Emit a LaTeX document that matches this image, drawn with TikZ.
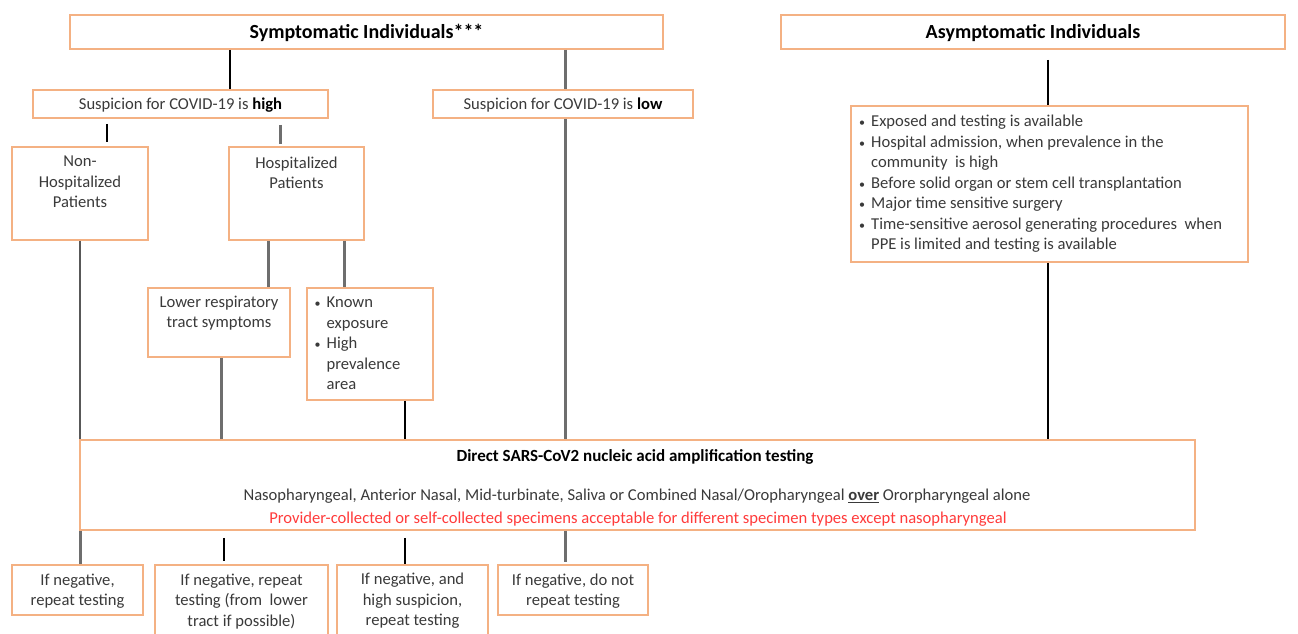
\documentclass[tikz,border=0pt]{standalone}
\usepackage{fontspec}
\setmainfont{Carlito}
\definecolor{boxor}{HTML}{F4B183}
\definecolor{lgray}{HTML}{6E6E6E}
\definecolor{txtc}{HTML}{3A3A3A}
\definecolor{redt}{HTML}{FF3B3B}
\tikzset{
  box/.style={draw=boxor, line width=1.5pt, inner sep=0pt, fill=white},
  txt/.style={text=txtc, font=\fontsize{16.6}{20.5}\selectfont, align=center, inner sep=0pt},
  ttl/.style={text=black, font=\fontsize{20}{24}\selectfont\bfseries, inner sep=0pt},
  gline/.style={draw=lgray, line width=3pt},
  bline/.style={draw=black, line width=1.6pt},
}
\newcommand{\bul}{{\fontsize{12}{12}\selectfont\textbullet}}
\begin{document}
\begin{tikzpicture}[x=1pt,y=-1pt]
\useasboundingbox (0,0) rectangle (1298,633);
\clip (0,0) rectangle (1298,633);
\fill[white] (0,0) rectangle (1298,633);
% boxes
\node[box, minimum width=593, minimum height=34] (sym) at (366.5,32) {};
\node[box, minimum width=504, minimum height=34] (asy) at (1033,32) {};
\node[box, minimum width=295, minimum height=28] (hi) at (180.5,104) {};
\node[box, minimum width=260, minimum height=28] (lo) at (563,104) {};
\node[box, minimum width=136, minimum height=93] (nh) at (80,193.5) {};
\node[box, minimum width=135, minimum height=93] (hp) at (296.5,193.5) {};
\node[box, minimum width=142, minimum height=69] (lr) at (219,322.5) {};
\node[box, minimum width=126, minimum height=112] (ke) at (370,344) {};
\node[box, minimum width=397, minimum height=156] (lst) at (1049.5,184) {};
\node[box, minimum width=1115, minimum height=90] (big) at (637.5,485) {};
\node[box, minimum width=131, minimum height=50] (b1) at (77.5,590) {};
\node[box, minimum width=173, minimum height=80] (b2) at (241.5,605) {};
\node[box, minimum width=151, minimum height=80] (b3) at (412.5,605) {};
\node[box, minimum width=150, minimum height=50] (b4) at (573,590) {};
% texts
\node[ttl] (tsym) at (366.5,33) {Symptomatic Individuals***};
\node[ttl] (tasy) at (1033,33) {Asymptomatic Individuals};
\node[txt] (thi) at (180.5,105) {Suspicion for COVID-19 is \textbf{\color{black}high}};
\node[txt] (tlo) at (563,105) {Suspicion for COVID-19 is \textbf{\color{black}low}};
\node[txt, anchor=base] (tnh) at (80,207.5) {Non-\\Hospitalized\\Patients};
\node[txt, anchor=base] (thp) at (296.5,188.5) {Hospitalized\\Patients};
\node[txt, anchor=base] (tlr) at (219,327.5) {Lower respiratory\\tract symptoms};
\node[txt, anchor=base west] (tke) at (314.5,307.5) {\begin{tabular}[t]{@{}l@{\hspace{6pt}}l@{}}\bul & Known\\ & exposure\\ \bul & High\\ & prevalence\\ & area\end{tabular}};
\node[txt, anchor=base west] (tlst) at (859,126.5) {\begin{tabular}[t]{@{}l@{\hspace{6pt}}l@{}}\bul & Exposed and testing is available\\ \bul & Hospital admission, when prevalence in the\\ & community\ \ is high\\ \bul & Before solid organ or stem cell transplantation\\ \bul & Major time sensitive surgery\\ \bul & Time-sensitive aerosol generating procedures\ \ when\\ & PPE is limited and testing is available\end{tabular}};
\node[txt, anchor=base, text=black, font=\fontsize{17}{20}\selectfont\bfseries] (tb1) at (635,461.5) {Direct SARS-CoV2 nucleic acid amplification testing};
\node[txt, anchor=base] (tb2) at (637,500.5) {Nasopharyngeal, Anterior Nasal, Mid-turbinate, Saliva or Combined Nasal/Oropharyngeal \underline{\textbf{over}} Ororpharyngeal alone};
\node[txt, anchor=base, text=redt] (tb3) at (638,523.5) {Provider-collected or self-collected specimens acceptable for different specimen types except nasopharyngeal};
\node[txt, anchor=base] (tr1) at (77.5,605.5) {If negative,\\repeat testing};
\node[txt, anchor=base] (tr2) at (241.5,626) {If negative, repeat\\testing (from\ \ lower\\tract if possible)};
\node[txt, anchor=base] (tr3) at (412.5,625.5) {If negative, and\\high suspicion,\\repeat testing};
\node[txt, anchor=base] (tr4) at (573,605.5) {If negative, do not\\repeat testing};
% x positions
\coordinate (x80) at (80,0);
\coordinate (x107) at (107,0);
\coordinate (x221) at (221,0);
\coordinate (x224) at (224,0);
\coordinate (x230) at (230,0);
\coordinate (x268) at (268,0);
\coordinate (x280) at (280,0);
\coordinate (x344) at (344,0);
\coordinate (x405) at (405,0);
\coordinate (x565) at (565,0);
\coordinate (x1048) at (1048,0);
% connectors
\draw[bline] (sym.south -| x230) -- (hi.north -| x230);
\draw[gline] (sym.south -| x565) -- (lo.north -| x565);
\draw[bline, shorten <=5pt, shorten >=4pt] (hi.south -| x107) -- (nh.north -| x107);
\draw[gline, shorten <=6pt, shorten >=2pt] (hi.south -| x280) -- (hp.north -| x280);
\draw[gline] (lo.south -| x565) -- (big.north -| x565);
\draw[draw=lgray!80!black, line width=2pt] (nh.south -| x80) -- (big.north -| x80);
\draw[gline] (hp.south -| x268) -- (lr.north -| x268);
\draw[gline] (hp.south -| x344) -- (ke.north -| x344);
\draw[gline] (lr.south -| x221) -- (big.north -| x221);
\draw[bline] (ke.south -| x405) -- (big.north -| x405);
\draw[bline, shorten <=10pt] (asy.south -| x1048) -- (lst.north -| x1048);
\draw[bline] (lst.south -| x1048) -- (big.north -| x1048);
\draw[gline] (big.south -| x80) -- (b1.north -| x80);
\draw[bline, shorten <=7pt, shorten >=3pt] (big.south -| x224) -- (b2.north -| x224);
\draw[bline, shorten <=7pt] (big.south -| x405) -- (b3.north -| x405);
\draw[gline, shorten >=2pt] (big.south -| x565) -- (b4.north -| x565);
\end{tikzpicture}
\end{document}
